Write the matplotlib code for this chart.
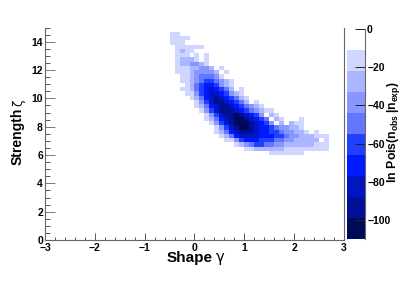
"""
Scan of ln Pois(n_obs|n_exp) against shape and strength
"""

import numpy as np
import matplotlib
matplotlib.use("Agg")
import matplotlib.pyplot as plt
from matplotlib.colors import ListedColormap, BoundaryNorm

W, H = 415, 282

plt.rcParams["font.family"] = ["Liberation Sans", "DejaVu Sans"]
plt.rcParams["mathtext.fontset"] = "custom"
plt.rcParams["mathtext.rm"] = "Liberation Sans:bold"
plt.rcParams["mathtext.bf"] = "Liberation Sans:bold"

# bins of the scan
GAMMA_EDGES = np.linspace(-3, 3, 61)
ZETA_EDGES = np.linspace(0, 15, 51)
FIRST_GAMMA_BIN = 24   # gamma = -0.6
TOP_ZETA_BIN = 48      # zeta = 14.4

# band of each bin, top row first, "." = empty
BANDS = [
    ".11",
    ".1111",
    ".111",
    "..111111",
    "..1211",
    "..111.1.1",
    "..12221.1",
    "..1223321",
    "..11122332.1",
    "..111233332.1",
    "...112344431",
    "...11234554321",
    "....1245665321",
    "...11245676542.1",
    "....113567765321",
    ".....124678765421",
    "......13578876542.1",
    "......12467887654321",
    ".......135788876543211",
    "........135788987653.21",
    "........1246789987654.21...1",
    ".........1357899987653.2.211",
    "..........135789987665433221",
    "..........124678887665" + "5433221.1",
    "...........1246777766655433222111",
    "............1135666555443322222.1",
    "..............1234554433222222111",
    "................11222222111111111",
    ".....................1111111",
]

BAND_VALUES = [np.nan, -16, -27, -38, -49, -60, -71, -82, -93, -104]

LEVELS = [-110, -99, -88, -77, -66, -55, -44, -33, -22, -11, 0]
COLORS = ["#000a5a", "#000f96", "#0014c8", "#0019ff", "#2040ff",
          "#6476ff", "#8896ff", "#aab6ff", "#d0d6ff", "#ffffff"]

X_TICKS = [-3, -2, -1, 0, 1, 2, 3]
Y_TICKS = [0, 2, 4, 6, 8, 10, 12, 14]
Z_TICKS = [0, -20, -40, -60, -80, -100]


def box(left, top, right, bottom):
    return [left / W, 1 - bottom / H, (right - left) / W, (bottom - top) / H]


z = np.full((50, 60), np.nan)
for k, row in enumerate(BANDS):
    for i, ch in enumerate(row):
        if ch != ".":
            z[TOP_ZETA_BIN - k, FIRST_GAMMA_BIN + i] = BAND_VALUES[int(ch)]

cmap = ListedColormap(COLORS)
norm = BoundaryNorm(LEVELS, cmap.N)

fig = plt.figure(figsize=(W / 100, H / 100), dpi=100)
ax = fig.add_axes(box(45, 27.5, 344, 240))
ax.pcolormesh(GAMMA_EDGES, ZETA_EDGES, z, cmap=cmap, norm=norm, antialiased=False)
ax.set_xlim(-3, 3)
ax.set_ylim(0, 15)
ax.set_xticks(X_TICKS)
ax.set_yticks(Y_TICKS)
ax.set_xticks(np.arange(-3, 3.01, 0.2), minor=True)
ax.set_yticks(np.arange(0, 15.01, 0.5), minor=True)
ax.spines["top"].set_visible(False)
for s in ["left", "bottom", "right"]:
    ax.spines[s].set_color("#666666")
    ax.spines[s].set_linewidth(0.8)
ax.tick_params(axis="x", which="major", direction="in", length=5, width=0.7,
               color="#555555", pad=2, labelsize=7.5)
ax.tick_params(axis="x", which="minor", direction="in", length=2.5, width=0.7, color="#555555")
ax.tick_params(axis="y", which="major", direction="in", length=7, width=0.7,
               color="#777777", pad=1.5, labelsize=7.5)
ax.tick_params(axis="y", which="minor", direction="in", length=3.5, width=0.7, color="#555555")
for lab in ax.get_xticklabels() + ax.get_yticklabels():
    lab.set_fontweight("bold")

# colour bar
cax = fig.add_axes(box(346.5, 29, 365, 239))
cax.pcolormesh([0, 1], LEVELS, np.array(LEVELS[:-1]).reshape(-1, 1) + 5.5,
               cmap=cmap, norm=norm, antialiased=False)
cax.set_xlim(0, 1)
cax.set_ylim(-110, 0)
cax.set_xticks([])
cax.yaxis.tick_right()
cax.set_yticks(Z_TICKS)
for s in ["left", "top", "bottom"]:
    cax.spines[s].set_visible(False)
cax.spines["right"].set_color("#666666")
cax.spines["right"].set_linewidth(0.8)
cax.tick_params(axis="y", direction="in", length=7, width=0.7, color="#222222",
                pad=1.5, labelsize=7.5)
for lab in cax.get_yticklabels():
    lab.set_fontweight("bold")

# axis titles, placed in pixels
fig.text(167 / W, 1 - 262 / H, "Shape", fontsize=11, fontweight="bold", va="baseline")
fig.text(216 / W, 1 - 262 / H, "γ", fontsize=10.5, family="DejaVu Sans", va="baseline")
fig.text(25 / W, 1 - 165 / H, "Strength", fontsize=10, fontweight="bold", rotation=90,
         va="bottom", ha="right")
fig.text(25 / W, 1 - 106 / H, "ζ", fontsize=8.5, family="DejaVu Sans", rotation=90,
         va="bottom", ha="right")
fig.text(393 / W, 1 - 183 / H, r"$\mathrm{ln\ Pois(n_{obs}\,|n_{exp})}$", fontsize=8.8,
         rotation=90, va="bottom", ha="center")

fig.savefig("out.png", dpi=100)
plt.close(fig)
